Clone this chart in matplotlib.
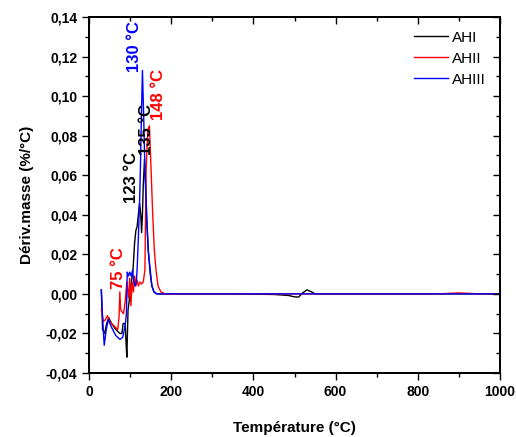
import matplotlib.pyplot as plt
from matplotlib.ticker import FuncFormatter, MultipleLocator

# courbes DTG (dérivée de la masse) pour les trois échantillons
T_AHI = [30, 33, 38, 43, 48, 55, 65, 75, 80, 83, 88, 90, 92, 95, 100, 103, 107, 111, 114, 117,
         120, 123, 126, 128, 130, 132, 135, 138, 141, 145, 149, 153, 158, 165, 180,
         250, 350, 450, 485, 500, 510, 520, 530, 540, 550, 650, 750, 850, 1000]
d_AHI = [0.002, -0.018, -0.020, -0.015, -0.012, -0.015, -0.018, -0.020, -0.020, -0.015, -0.015, -0.024,
         -0.032, -0.008, 0.000, 0.006, 0.012, 0.026, 0.032, 0.034,
         0.040, 0.046, 0.040, 0.031, 0.040, 0.055, 0.068, 0.055, 0.035, 0.020, 0.010, 0.004, 0.001, 0.000, 0.000,
         0.000, 0.000, -0.0003, -0.0008, -0.0015, -0.0016, 0.0005, 0.002, 0.0012, 0.000, 0.000, 0.000, 0.000, 0.000]

T_AHII = [30, 35, 40, 45, 50, 60, 70, 73, 75, 77, 80, 84, 88, 92, 96, 99, 102, 105, 108, 111,
          114, 117, 120, 124, 128, 132, 136, 139, 143, 147, 151, 155, 159, 163, 168, 175, 185,
          250, 350, 450, 550, 650, 750, 850, 900, 950, 1000]
d_AHII = [-0.008, -0.014, -0.013, -0.011, -0.014, -0.016, -0.018, -0.012, 0.001, -0.008, -0.009, -0.010,
          -0.004, 0.006, -0.002, 0.008, -0.006, 0.006, 0.001, 0.009,
          0.004, 0.007, 0.004, 0.006, 0.005, 0.006, 0.012, 0.063, 0.083, 0.085, 0.063, 0.040, 0.022, 0.012,
          0.004, 0.001, 0.000,
          0.000, 0.000, 0.000, 0.000, 0.000, 0.000, 0.000, 0.0005, 0.000, 0.000]

T_AHIII = [30, 33, 37, 42, 47, 55, 65, 75, 82, 88, 91, 93, 96, 99, 103, 106, 109, 112, 115, 117,
           120, 123, 125, 128, 130, 133, 136, 140, 144, 149, 153, 158, 165, 180,
           250, 350, 450, 550, 650, 750, 850, 1000]
d_AHIII = [0.002, -0.012, -0.026, -0.018, -0.013, -0.017, -0.021, -0.023, -0.022, -0.016, -0.010, 0.011,
           0.009, 0.011, 0.009, 0.012, 0.006, 0.004, 0.006, 0.012,
           0.028, 0.046, 0.063, 0.095, 0.113, 0.090, 0.063, 0.040, 0.022, 0.012, 0.004, 0.001, 0.000, 0.000,
           0.000, 0.000, 0.000, 0.000, 0.000, 0.000, 0.000, 0.000]

plt.rcParams['font.family'] = ['Liberation Sans', 'DejaVu Sans']

fig = plt.figure(figsize=(5.16, 4.37), dpi=100)
ax = fig.add_axes([0.1725, 0.1465, 0.7965, 0.8145])

ax.plot(T_AHI, d_AHI, color='black', lw=1.0, label='AHI')
ax.plot(T_AHII, d_AHII, color='red', lw=1.0, label='AHII')
ax.plot(T_AHIII, d_AHIII, color='blue', lw=1.0, label='AHIII')

# annotations des pics
kw = dict(rotation=90, ha='center', va='center', fontsize=12, fontweight='bold')
ax.text(110, 0.125, '130 °C', color='blue', **kw)
ax.text(169, 0.101, '148 °C', color='red', **kw)
ax.text(140, 0.083, '135 °C', color='black', **kw)
ax.text(104, 0.059, '123 °C', color='black', **kw)
ax.text(71, 0.013, '75 °C', color='red', **kw)

ax.set_xlim(0, 1000)
ax.set_ylim(-0.04, 0.14)
ax.xaxis.set_major_locator(MultipleLocator(200))
ax.xaxis.set_minor_locator(MultipleLocator(100))
ax.yaxis.set_major_locator(MultipleLocator(0.02))
ax.yaxis.set_minor_locator(MultipleLocator(0.01))
ax.yaxis.set_major_formatter(FuncFormatter(lambda v, p: ('%.2f' % v).replace('.', ',').replace('-0,00', '0,00')))
ax.xaxis.set_major_formatter(FuncFormatter(lambda v, p: '%d' % v))

ax.tick_params(which='both', direction='out', top=False, right=False)
ax.tick_params(which='major', length=5, width=1)
ax.tick_params(which='minor', length=3, width=1)
for lab in ax.get_xticklabels() + ax.get_yticklabels():
    lab.set_fontweight('bold')
    lab.set_fontsize(10)

# ticks miroir vers l'intérieur en haut et à droite
axt = ax.twiny()
axt.set_xlim(ax.get_xlim())
axt.xaxis.set_major_locator(MultipleLocator(200))
axt.xaxis.set_minor_locator(MultipleLocator(100))
axt.tick_params(which='both', direction='in', labeltop=False, width=1)
axt.tick_params(which='major', length=5)
axt.tick_params(which='minor', length=3)
axr = ax.twinx()
axr.set_ylim(ax.get_ylim())
axr.yaxis.set_major_locator(MultipleLocator(0.02))
axr.yaxis.set_minor_locator(MultipleLocator(0.01))
axr.tick_params(which='both', direction='in', labelright=False, width=1)
axr.tick_params(which='major', length=5)
axr.tick_params(which='minor', length=3)
for a in (ax, axt, axr):
    for s in a.spines.values():
        s.set_linewidth(1.2)

ax.set_xlabel('Température (°C)', fontsize=11, fontweight='bold', labelpad=16)
ax.set_ylabel('Dériv.masse (%/°C)', fontsize=11, fontweight='bold', labelpad=8)

ax.legend(loc='upper right', frameon=False, fontsize=11, handlelength=2.2, handletextpad=0.3,
          labelspacing=0.45, bbox_to_anchor=(1.0, 1.0))

plt.savefig('out.png', dpi=100)
